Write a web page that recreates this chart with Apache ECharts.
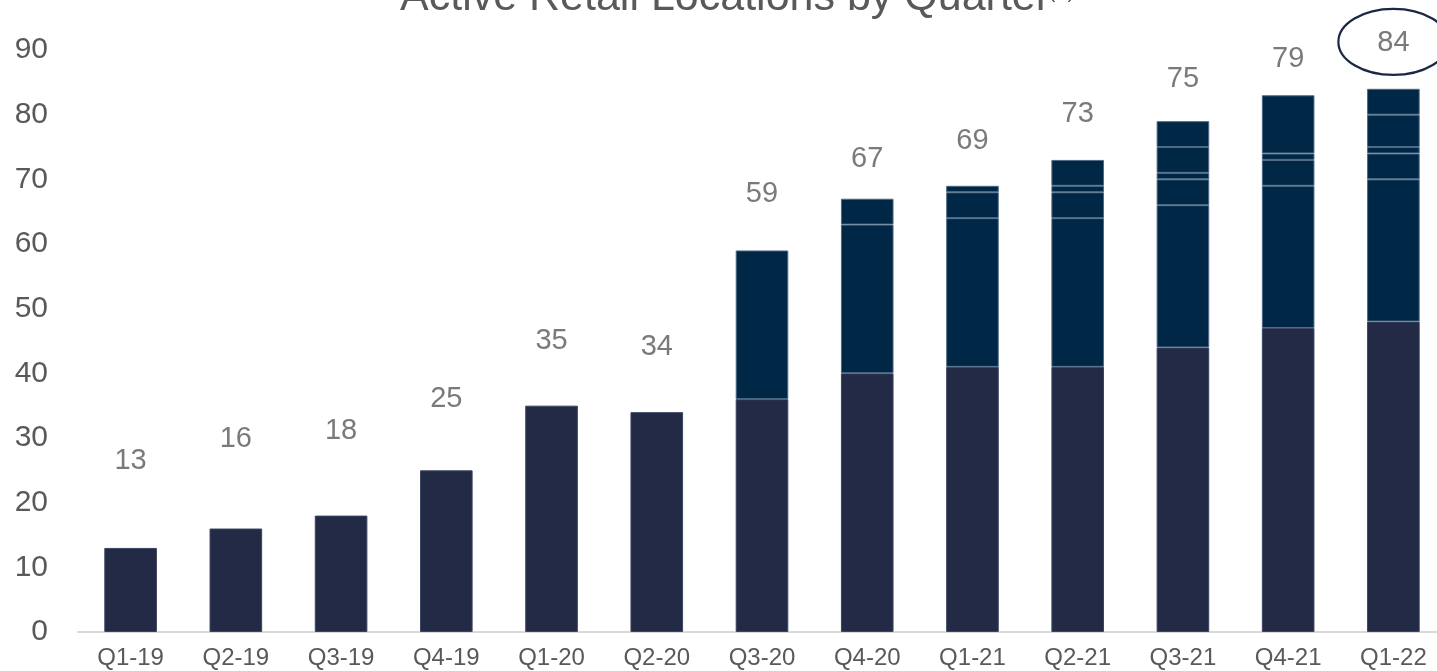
<!DOCTYPE html>
<html><head><meta charset="utf-8">
<script src="https://cdn.jsdelivr.net/npm/echarts@6/dist/echarts.min.js"></script>
<style>html,body{margin:0;padding:0;background:#fff}#c{width:1437px;height:671px}</style>
</head><body><div id="c"></div>
<script>
const categories = ['Q1-19','Q2-19','Q3-19','Q4-19','Q1-20','Q2-20','Q3-20','Q4-20','Q1-21','Q2-21','Q3-21','Q4-21','Q1-22'];
const baseLocations = [13,16,18,25,35,34,36,40,41,41,44,47,48];
const addedA = [null,null,null,null,null,null,23,23,23,23,22,22,22];
const addedB = [null,null,null,null,null,null,null,4,4,4,4,4,4];
const addedC = [null,null,null,null,null,null,null,null,1,1,1,1,1];
const addedD = [null,null,null,null,null,null,null,null,null,4,4,9,5];
const addedE = [null,null,null,null,null,null,null,null,null,null,4,null,4];
const totalLabels = [13,16,18,25,35,34,59,67,69,73,75,79,84];
const labelLevel = [26.4,29.8,31.1,36.0,45.0,44.1,67.7,73.1,75.9,80.1,85.5,88.6,91.1];
const yMax = 90, yStep = 10;

const FONT = 'Liberation Sans, Arial, sans-serif';
const GREY = '#595959';
const chart = echarts.init(document.getElementById('c'), null, {renderer: 'canvas'});

function topSeries(data, border) {
  return {
    type: 'bar', stack: 'total', data: data, barWidth: '50%',
    itemStyle: {color: '#002846', borderColor: border || '#4d6a86', borderWidth: 1},
    silent: true
  };
}

chart.setOption({
  animation: false,
  grid: {left: 78, right: -9, top: 50, bottom: 39, containLabel: false, outerBoundsMode: 'none'},
  xAxis: {
    type: 'category', data: categories,
    axisTick: {show: false},
    axisLine: {lineStyle: {color: '#d9d9d9', width: 2}},
    axisLabel: {fontSize: 24, color: GREY, fontFamily: FONT, margin: 14}
  },
  yAxis: {
    type: 'value', min: 0, max: yMax, interval: yStep,
    axisLine: {show: false}, axisTick: {show: false}, splitLine: {show: false},
    axisLabel: {fontSize: 30, color: GREY, fontFamily: FONT, margin: 30}
  },
  series: [
    {
      type: 'bar', stack: 'total', data: baseLocations, barWidth: '50%',
      itemStyle: {color: '#222a45', borderColor: '#3b4560', borderWidth: 1},
      silent: true
    },
    topSeries(addedA), topSeries(addedB), topSeries(addedC), topSeries(addedD), topSeries(addedE),
    {
      type: 'scatter', data: labelLevel, symbolSize: 1, clip: false, silent: true, z: 5,
      itemStyle: {color: 'rgba(0,0,0,0)'},
      label: {show: true, position: 'inside', fontSize: 29, color: GREY, fontFamily: FONT,
        formatter: p => String(totalLabels[p.dataIndex])}
    }
  ]
});

const last = categories.length - 1;
const pt = chart.convertToPixel({xAxisIndex: 0, yAxisIndex: 0}, [categories[last], labelLevel[last]]);
chart.setOption({
  graphic: [
    {
      type: 'ellipse', silent: true, z: 10,
      shape: {cx: pt[0], cy: pt[1] - 1, rx: 55, ry: 33},
      style: {fill: 'none', stroke: '#1c2748', lineWidth: 2.2}
    },
    {
      type: 'text', silent: true, x: 400, y: -2,
      style: {text: 'Active Retail Locations by Quarter', fontSize: 43, fontFamily: FONT, fill: GREY,
        align: 'left', verticalAlign: 'middle'}
    },
    {
      type: 'text', silent: true, x: 1048, y: -9,
      style: {text: '(1)', fontSize: 22, fontFamily: FONT, fill: GREY, align: 'left', verticalAlign: 'middle'}
    }
  ]
});
</script></body></html>
